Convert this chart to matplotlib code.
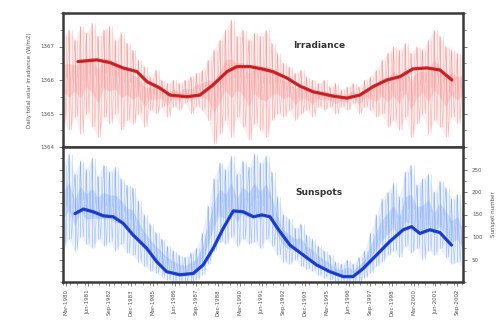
import numpy as np
import matplotlib
matplotlib.use("Agg")
import matplotlib.pyplot as plt
from matplotlib.ticker import MultipleLocator, FixedLocator

# ---------------- data ----------------
# sample times (decimal years, every 4 months) for the daily-noise envelope
t0 = 1980.0
n_samples = 70
sample_years = t0 + np.arange(n_samples) / 3.0

tsi_high = [1367.3, 1367.5, 1367.2, 1367.6, 1367.4, 1367.7, 1367.3, 1367.5, 1367.6, 1367.2, 1367.4, 1367.1,
            1366.9, 1366.6, 1366.4,
            1366.1, 1366.3, 1366.0, 1365.9, 1366.0, 1365.9, 1366.0, 1366.1, 1366.2, 1366.3, 1366.6,
            1366.9, 1367.2, 1367.5, 1367.8, 1367.3, 1367.5, 1367.2, 1367.4, 1367.3,
            1367.5, 1367.1, 1366.8, 1366.5,
            1366.4, 1366.2, 1366.3, 1366.1, 1366.0, 1365.9, 1366.0,
            1365.8, 1365.9, 1365.7, 1365.8, 1365.9, 1365.8, 1366.0, 1366.1,
            1366.3, 1366.6, 1366.8, 1367.0, 1366.9, 1367.1, 1366.8, 1367.0, 1366.9, 1367.2, 1367.5, 1367.3,
            1367.0, 1366.9, 1366.8, 1366.7]
tsi_low = [1364.8, 1364.5, 1364.9, 1364.4, 1365.0, 1364.6, 1364.3, 1364.9, 1364.7, 1365.0, 1364.5, 1364.8,
           1364.7, 1365.0, 1364.6,
           1365.1, 1365.0, 1365.2, 1364.9, 1365.2, 1365.1, 1365.3, 1365.0, 1365.2, 1365.1, 1364.8,
           1364.1, 1364.4, 1364.8, 1364.3, 1364.9, 1364.6, 1364.2, 1364.7, 1364.5,
           1364.3, 1364.8, 1365.0, 1364.9,
           1365.1, 1364.8, 1365.0, 1365.1, 1364.9, 1365.2, 1365.1,
           1365.2, 1365.0, 1365.2, 1365.1, 1365.3, 1365.0, 1365.2, 1365.1,
           1364.9, 1365.0, 1364.6, 1364.8, 1364.5, 1364.9, 1364.3, 1364.7, 1365.0, 1364.4, 1364.8, 1364.6,
           1364.3, 1364.9, 1364.7, 1365.0]

tsi_smooth_years = [1980.86, 1981.94, 1982.70, 1983.45, 1984.25, 1984.83, 1985.57, 1986.15, 1987.13,
                    1987.87, 1988.62, 1989.43, 1990.00, 1990.75, 1991.44, 1992.07, 1992.87, 1993.62,
                    1994.37, 1995.52, 1996.32, 1997.07, 1997.82, 1998.62, 1999.37, 2000.11, 2000.92,
                    2001.67, 2002.36]
tsi_smooth = [1366.55, 1366.60, 1366.52, 1366.36, 1366.25, 1365.95, 1365.76, 1365.55, 1365.50,
              1365.55, 1365.85, 1366.25, 1366.40, 1366.40, 1366.33, 1366.25, 1366.06, 1365.82,
              1365.65, 1365.52, 1365.46, 1365.55, 1365.80, 1366.00, 1366.10, 1366.33, 1366.36,
              1366.30, 1366.00]

ssn_high = [260, 285, 240, 270, 250, 275, 235, 260, 245, 255, 230, 215,
            210, 180, 150, 130, 110, 95,
            80, 70, 60, 55, 65, 75, 110,
            170, 230, 265, 250, 280, 240, 270, 255, 285, 265,
            280, 245, 190, 150,
            140, 120, 130, 105, 95, 80, 70,
            60, 45, 40, 50, 40, 55, 70,
            110, 150, 185, 200, 220, 190, 245, 260, 215, 230, 240, 200, 225, 210, 185, 195, 160]
ssn_low = [80, 95, 70, 100, 85, 75, 95, 80, 90, 70, 85, 65,
           60, 45, 35, 25, 20, 12,
           5, 0, 0, 0, 0, 5, 15,
           40, 70, 90, 85, 100, 80, 95, 85, 90, 75,
           95, 80, 60, 45,
           40, 50, 35, 30, 25, 15, 10,
           5, 0, 0, 0, 0, 0, 10,
           20, 35, 45, 60, 70, 55, 80, 65, 75, 50, 70, 60, 75, 55, 40, 45, 30]

ssn_smooth_years = [1980.69, 1981.17, 1981.74, 1982.32, 1982.89, 1983.47, 1984.04, 1984.81, 1985.39,
                    1985.96, 1986.72, 1987.49, 1988.06, 1988.64, 1989.21, 1989.79, 1990.36, 1990.94,
                    1991.44, 1991.90, 1992.47, 1993.05, 1993.81, 1994.58, 1995.34, 1996.11, 1996.68,
                    1997.26, 1998.03, 1998.79, 1999.56, 2000.04, 2000.52, 2001.09, 2001.67, 2002.34]
ssn_smooth = [152, 162, 156, 147, 145, 130, 104, 75, 45, 23, 16, 19, 38, 75, 119, 158, 156, 145,
              149, 145, 112, 82, 60, 38, 23, 12, 12, 30, 60, 90, 116, 123, 108, 116, 110, 82]

x_labels = ["Mar-1980", "Jun-1981", "Sep-1982", "Dec-1983", "Mar-1985", "Jun-1986", "Sep-1987",
            "Dec-1988", "Mar-1990", "Jun-1991", "Sep-1992", "Dec-1993", "Mar-1995", "Jun-1996",
            "Sep-1997", "Dec-1998", "Mar-2000", "Jun-2001", "Sep-2002"]
x_label_pos = 1980 + 2 / 12 + np.arange(len(x_labels)) * 1.25

tsi_ticks = [1364, 1365, 1366, 1367]
ssn_ticks = [50, 100, 150, 200, 250]

# ---------------- figure ----------------
W, H = 502, 322
fig = plt.figure(figsize=(W / 100, H / 100), dpi=100)
fig.patch.set_facecolor("white")

ax1 = fig.add_axes([63 / W, 1 - 147 / H, 400 / W, 134 / H])
ax2 = fig.add_axes([63 / W, 1 - 282 / H, 400 / W, 135 / H], sharex=ax1)

frame_col = "#3a3a3a"
tick_col = "#666666"
lab_col = "#555555"


def draw_noise(ax, yrs, lo, hi, light, mid):
    yrs = np.asarray(yrs)
    lo = np.asarray(lo, float)
    hi = np.asarray(hi, float)
    ax.fill_between(yrs, lo, hi, color=light, alpha=0.22, lw=0)
    ax.vlines(yrs, lo, hi, color=mid, lw=0.5, alpha=0.5)
    ax.vlines(yrs + 1 / 6, (lo + hi) / 2, hi, color=mid, lw=0.4, alpha=0.4)
    zx = np.empty(2 * len(yrs))
    zy = np.empty(2 * len(yrs))
    zx[0::2] = yrs
    zx[1::2] = yrs + 1 / 6
    zy[0::2] = hi
    zy[1::2] = lo
    ax.plot(zx, zy, color=mid, lw=0.4, alpha=0.45)
    mid_lo = (2 * lo + hi) / 3
    mid_hi = (lo + 2 * hi) / 3
    ax.fill_between(yrs, mid_lo, mid_hi, color=mid, alpha=0.22, lw=0)


draw_noise(ax1, sample_years, tsi_low, tsi_high, "#f9b4b4", "#f06a6a")
ax1.plot(tsi_smooth_years, tsi_smooth, color="#dc2a2e", lw=2.4, solid_capstyle="round")
ax1.plot(tsi_smooth_years, tsi_smooth, color="#a01515", lw=0.7, alpha=0.7)

draw_noise(ax2, sample_years, ssn_low, ssn_high, "#a9c6f7", "#4f86f0")
ax2.plot(ssn_smooth_years, ssn_smooth, color="#2448e0", lw=2.4, solid_capstyle="round")
ax2.plot(ssn_smooth_years, ssn_smooth, color="#10279a", lw=0.7, alpha=0.7)

ax1.set_xlim(1980.0, 2003.0)
ax1.set_ylim(1364, 1368)
ax2.set_ylim(0, 300)

for ax in (ax1, ax2):
    for s in ax.spines.values():
        s.set_color(frame_col)
        s.set_linewidth(1.8)
    ax.tick_params(which="both", colors=tick_col, labelcolor=lab_col, direction="out")
    ax.tick_params(which="major", length=3, width=0.6, labelsize=4)
    ax.tick_params(which="minor", length=2, width=0.5)

# top panel: left labels
ax1.yaxis.set_major_locator(FixedLocator(tsi_ticks))
ax1.yaxis.set_minor_locator(MultipleLocator(0.5))
ax1.set_yticklabels([str(v) for v in tsi_ticks])
ax1.tick_params(axis="y", which="both", left=True, right=True, labelleft=True, labelright=False)
ax1.tick_params(axis="x", which="both", bottom=False, labelbottom=False)
ax1.set_ylabel("Daily total solar irradiance (W/m2)", fontsize=4, color=lab_col, labelpad=6)

# bottom panel: right labels
ax2.yaxis.set_major_locator(FixedLocator(ssn_ticks))
ax2.yaxis.set_minor_locator(MultipleLocator(25))
ax2.yaxis.tick_right()
ax2.tick_params(axis="y", which="both", left=True, right=True, labelleft=False, labelright=True)
ax2.yaxis.set_label_position("right")
ax2.set_ylabel("Sunspot number", fontsize=4, color=lab_col, labelpad=6)

ax2.xaxis.set_major_locator(FixedLocator(x_label_pos))
ax2.xaxis.set_minor_locator(MultipleLocator(5 / 12))
ax2.set_xticklabels(x_labels, rotation=90, fontsize=4, color=lab_col, va="top")
ax2.tick_params(axis="x", which="major", length=3, pad=2)

ax1.text(0.64, 0.76, "Irradiance", transform=ax1.transAxes, fontsize=6.5,
         fontweight="bold", color="#333333", ha="center", va="center")
ax2.text(0.64, 0.66, "Sunspots", transform=ax2.transAxes, fontsize=6.5,
         fontweight="bold", color="#333333", ha="center", va="center")

fig.savefig("out.png", dpi=100, facecolor="white")
